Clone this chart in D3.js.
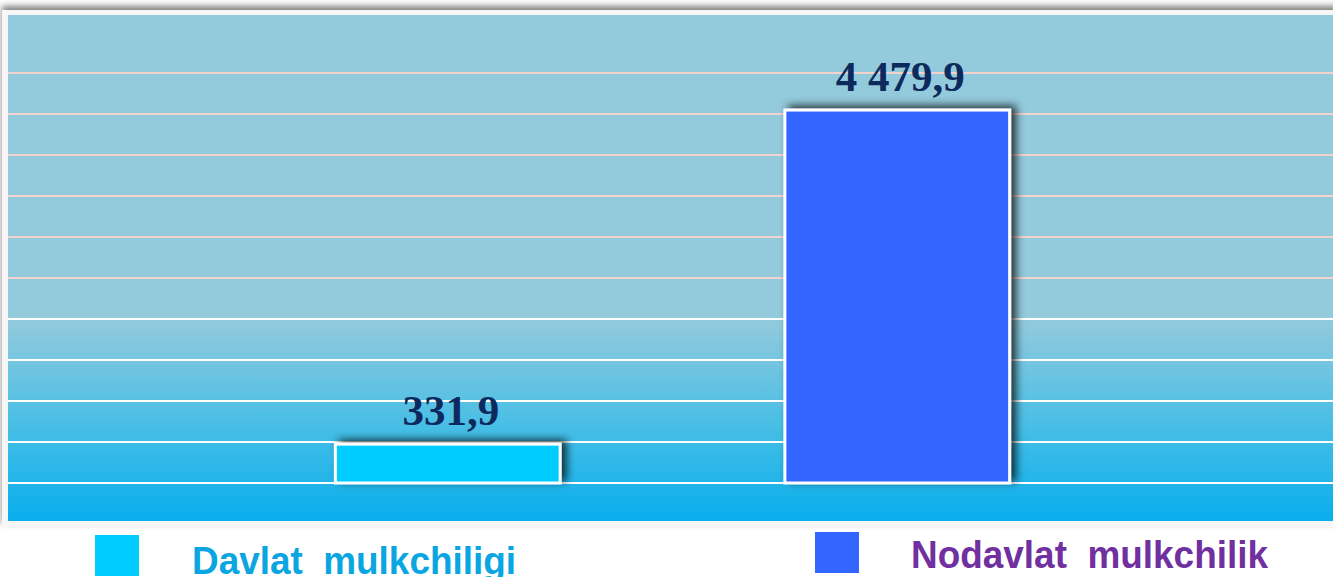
<!DOCTYPE html>
<html>
<head>
<meta charset="utf-8">
<script src="https://cdn.jsdelivr.net/npm/d3@7"></script>
<style>
  html, body { margin: 0; padding: 0; background: #ffffff; overflow: hidden; }
</style>
</head>
<body>
<div id="graph-container"></div>
<script>

    /////////////////////////////////////////////////////////////////////////////
                          ///////    Variables    ///////
    /////////////////////////////////////////////////////////////////////////////

    var w = 1333;
    var h = 577;

    var data = [
        {'name': 'Davlat  mulkchiligi',  'value': 331.9,  'color': '#00ccff', 'textColor': '#0aa6e2'},
        {'name': 'Nodavlat  mulkchilik', 'value': 4479.9, 'color': '#3366ff', 'textColor': '#7030a0'}
    ];

    var plot = {'left': 8, 'top': 15, 'right': 1345, 'bottom': 521};

    // value axis is not drawn; baseline sits a bit above the frame bottom
    var y = d3.scaleLinear().domain([-150, 4940]).range([483, 73]);
    var gridValues = d3.range(11).map(i => -150 + i * 509);

    var x = d3.scaleBand()
              .domain(data.map(d => d.name))
              .range([223, 1122])
              .paddingInner(0.5)
              .paddingOuter(0.25);

    var locale = d3.formatLocale({'decimal': ',', 'thousands': '\u00a0', 'grouping': [3], 'currency': ['', '']});
    var fmt = locale.format(',.1f');

    var svg = d3.select("#graph-container").append("svg")
                .attr("xmlns", "http://www.w3.org/2000/svg")
                .attr("width", w)
                .attr("height", h);

    var defs = svg.append("defs");

    var grad = defs.append("linearGradient")
                   .attr("id", "bg")
                   .attr("x1", 0).attr("y1", 0).attr("x2", 0).attr("y2", 1);
    grad.append("stop").attr("offset", 0).attr("stop-color", "#93cadc");
    grad.append("stop").attr("offset", 0.6).attr("stop-color", "#93cadc");
    grad.append("stop").attr("offset", 0.8).attr("stop-color", "#4cbfe5");
    grad.append("stop").attr("offset", 1).attr("stop-color", "#08aeec");

    var frameShadow = defs.append("filter").attr("id", "frameShadow")
                          .attr("x", "-5%").attr("y", "-5%").attr("width", "110%").attr("height", "110%");
    frameShadow.append("feDropShadow")
               .attr("dx", 0).attr("dy", -4).attr("stdDeviation", 3)
               .attr("flood-color", "#000").attr("flood-opacity", 0.5);

    var barShadow = defs.append("filter").attr("id", "barShadow")
                        .attr("x", "-20%").attr("y", "-40%").attr("width", "140%").attr("height", "180%");
    barShadow.append("feDropShadow")
             .attr("dx", 5).attr("dy", -3).attr("stdDeviation", 4.5)
             .attr("flood-color", "#000").attr("flood-opacity", 0.75);

    /////////////////////////////////////////////////////////////////////////////
                          ///////    Draw Chart    ///////
    /////////////////////////////////////////////////////////////////////////////

    // frame + plot background
    svg.append("rect")
       .attr("x", plot.left - 6).attr("y", plot.top - 5)
       .attr("width", plot.right - plot.left + 12).attr("height", plot.bottom - plot.top + 11)
       .style("fill", "#f7f7f7")
       .attr("filter", "url(#frameShadow)");

    svg.append("rect")
       .attr("x", plot.left).attr("y", plot.top)
       .attr("width", plot.right - plot.left).attr("height", plot.bottom - plot.top)
       .style("fill", "url(#bg)");

    svg.selectAll(".grid")
       .data(gridValues)
       .enter()
       .append("line")
       .attr("class", "grid")
       .attr("x1", plot.left).attr("x2", plot.right)
       .attr("y1", d => y(d)).attr("y2", d => y(d))
       .style("stroke", d => y(d) < 300 ? "#f2d3cf" : "#ffffff")
       .style("stroke-width", 2);

    svg.selectAll(".bar")
       .data(data)
       .enter()
       .append("rect")
       .attr("class", "bar")
       .attr("x", d => x(d.name))
       .attr("y", d => y(d.value))
       .attr("width", x.bandwidth())
       .attr("height", d => y(-150) - y(d.value))
       .style("fill", d => d.color)
       .style("stroke", "#ffffff")
       .style("stroke-width", 3)
       .attr("filter", "url(#barShadow)");

    svg.selectAll(".value")
       .data(data)
       .enter()
       .append("text")
       .attr("class", "value")
       .attr("x", d => x(d.name) + x.bandwidth() / 2 + 3)
       .attr("y", d => y(d.value) - 19)
       .attr("text-anchor", "middle")
       .style("font-family", "'Liberation Serif', 'Times New Roman', serif")
       .style("font-weight", "bold")
       .style("font-size", "43px")
       .style("fill", "#0d2a5e")
       .text(d => fmt(d.value));

    /////////////////////////////////////////////////////////////////////////////
                          ///////    Legend    ///////
    /////////////////////////////////////////////////////////////////////////////

    var legendPos = [
        {'sx': 95,  'sy': 535, 'tx': 192, 'ty': 574, 'tw': 324},
        {'sx': 815, 'sy': 532, 'tx': 911, 'ty': 568, 'tw': 357}
    ];

    var legend = svg.selectAll(".legend")
                    .data(data)
                    .enter()
                    .append("g")
                    .attr("class", "legend");

    legend.append("rect")
          .attr("x", (d, i) => legendPos[i].sx)
          .attr("y", (d, i) => legendPos[i].sy)
          .attr("width", 44).attr("height", 41)
          .style("fill", d => d.color);

    legend.append("text")
          .attr("x", (d, i) => legendPos[i].tx)
          .attr("y", (d, i) => legendPos[i].ty)
          .attr("textLength", (d, i) => legendPos[i].tw)
          .attr("lengthAdjust", "spacingAndGlyphs")
          .style("font-family", "'Liberation Sans', Arial, sans-serif")
          .style("font-weight", "bold")
          .style("font-size", "39px")
          .style("white-space", "pre")
          .style("fill", d => d.textColor)
          .text(d => d.name);

</script>
</body>
</html>
